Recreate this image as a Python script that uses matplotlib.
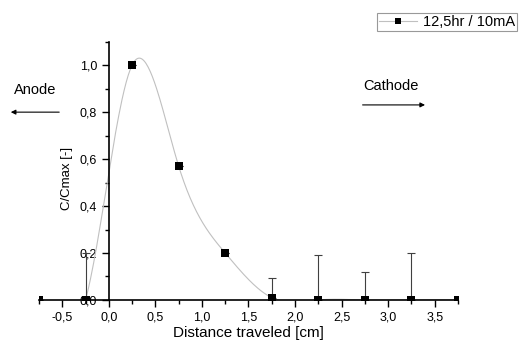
import numpy as np
import matplotlib
matplotlib.use("Agg")
import matplotlib.pyplot as plt
from matplotlib.ticker import MultipleLocator, FuncFormatter

plt.rcParams['font.family'] = ['Liberation Sans', 'DejaVu Sans']

# data
distance = [-0.75, -0.25, 0.25, 0.75, 1.25, 1.75, 2.25, 2.75, 3.25, 3.75]
c_cmax = [0.0, 0.0, 1.0, 0.57, 0.2, 0.01, 0.0, 0.0, 0.0, 0.0]
err_up = [0.0, 0.2, 0.0, 0.0, 0.0, 0.085, 0.19, 0.12, 0.2, 0.0]
series_label = "12,5hr / 10mA"


def natural_spline(x, y, n=400):
    # natural cubic spline through the points (like Origin's spline line)
    x = np.asarray(x, float)
    y = np.asarray(y, float)
    h = np.diff(x)
    m = len(x)
    A = np.zeros((m, m))
    b = np.zeros(m)
    A[0, 0] = A[-1, -1] = 1
    for i in range(1, m - 1):
        A[i, i - 1] = h[i - 1]
        A[i, i] = 2 * (h[i - 1] + h[i])
        A[i, i + 1] = h[i]
        b[i] = 6 * ((y[i + 1] - y[i]) / h[i] - (y[i] - y[i - 1]) / h[i - 1])
    M = np.linalg.solve(A, b)
    xs = np.linspace(x[0], x[-1], n)
    idx = np.clip(np.searchsorted(x, xs) - 1, 0, m - 2)
    x0, x1 = x[idx], x[idx + 1]
    hh = x1 - x0
    ys = (M[idx] * (x1 - xs) ** 3 / (6 * hh) + M[idx + 1] * (xs - x0) ** 3 / (6 * hh)
          + (y[idx] / hh - M[idx] * hh / 6) * (x1 - xs)
          + (y[idx + 1] / hh - M[idx + 1] * hh / 6) * (xs - x0))
    return xs, ys


fig = plt.figure(figsize=(5.23, 3.44), dpi=100)
ax = fig.add_axes([0.0746, 0.128, 0.801, 0.751])

xs, ys = natural_spline(distance, c_cmax)
ax.plot(xs, ys, color='#c0c0c0', lw=0.8)
ax.errorbar(distance, c_cmax, yerr=[np.zeros(len(err_up)), err_up], fmt='none',
            ecolor='#404040', elinewidth=0.8, capsize=3, capthick=0.8)
ax.plot(distance, c_cmax, 's', color='black', ms=5.2, mew=0, ls='none')

# legend handle: grey line with black square
ax.plot([], [], color='#c0c0c0', lw=0.8, marker='s', mfc='black', mec='black',
        ms=4.5, mew=0, label=series_label)
leg = fig.legend(loc='upper left', bbox_to_anchor=(0.721, 0.962), fontsize=10.5,
                 frameon=True, fancybox=False, edgecolor='#808080',
                 borderpad=0.15, borderaxespad=0, handlelength=2.6,
                 handletextpad=0.4)
leg.get_frame().set_linewidth(0.8)

ax.set_xlim(-0.75, 3.75)
ax.set_ylim(0, 1.1)
ax.spines['left'].set_position(('data', 0))
ax.spines['bottom'].set_position(('data', 0))
ax.spines['top'].set_visible(False)
ax.spines['right'].set_visible(False)
ax.spines['left'].set_linewidth(1.2)
ax.spines['bottom'].set_linewidth(1.2)

ax.xaxis.set_major_locator(MultipleLocator(0.5))
ax.xaxis.set_minor_locator(MultipleLocator(0.25))
ax.yaxis.set_major_locator(MultipleLocator(0.2))
ax.yaxis.set_minor_locator(MultipleLocator(0.1))
comma = FuncFormatter(lambda v, p: f"{v:.1f}".replace('.', ',').replace('-0,0', '0,0'))
ax.xaxis.set_major_formatter(comma)
ax.yaxis.set_major_formatter(comma)
ax.tick_params(axis='both', which='major', direction='out', length=5, width=1, labelsize=9)
ax.tick_params(axis='both', which='minor', direction='out', length=3, width=1)

ax.set_xlabel("Distance traveled [cm]", fontsize=11)
ax.set_ylabel("C/Cmax [-]", fontsize=9.5)
ax.xaxis.set_label_coords(0.50, -0.10)
ax.yaxis.set_label_coords(0.082, 0.47)

# anode / cathode annotations (figure fractions)
fig.text(0.067, 0.738, "Anode", fontsize=10.5, ha='center', va='center')
fig.add_artist(matplotlib.patches.FancyArrowPatch(
    (0.1185, 0.674), (0.0153, 0.674), transform=fig.transFigure,
    arrowstyle='-|>', color='black', lw=0.8, mutation_scale=7))
fig.text(0.748, 0.75, "Cathode", fontsize=10.5, ha='center', va='center')
fig.add_artist(matplotlib.patches.FancyArrowPatch(
    (0.688, 0.695), (0.818, 0.695), transform=fig.transFigure,
    arrowstyle='-|>', color='black', lw=0.8, mutation_scale=7))

fig.savefig("out.png", dpi=100)
